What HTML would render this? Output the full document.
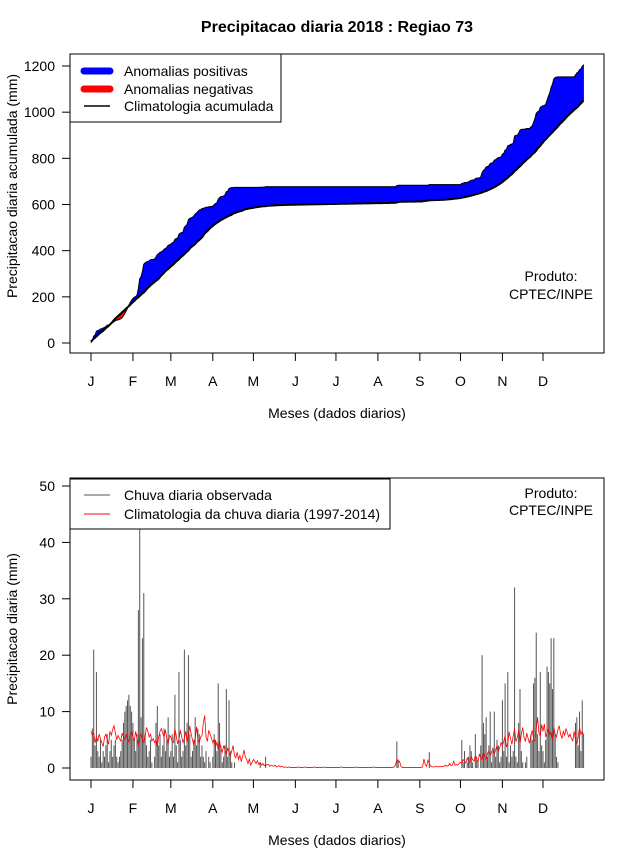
<!DOCTYPE html>
<html><head><meta charset="utf-8"><style>
html,body{margin:0;padding:0;background:#fff}
svg text{font-family:"Liberation Sans",Arial,sans-serif;fill:#000}
</style></head><body>
<svg id="chart" width="640" height="850" viewBox="0 0 640 850" xmlns="http://www.w3.org/2000/svg">
<text x="337" y="32" font-size="16" font-weight="bold" text-anchor="middle">Precipitacao diaria 2018 : Regiao 73</text>
<g id="top"></g>
<g id="bot"></g>
</svg>
<script>
const monthLabels = ["J","F","M","A","M","J","J","A","S","O","N","D"];
const monthStartDays = [1,32,60,91,121,152,182,213,244,274,305,335];
const topTicks = [0,200,400,600,800,1000,1200];
const botTicks = [0,10,20,30,40,50];
const obsJan=[2,7,21,4,17,3,2,5,1,3,2,4,6,1,3,5,2,4,5,2,1,2,3,5,8,10,11,12,13,11,10];
const obsFeb=[8,5,3,6,28,43,9,23,31,6,4,2,3,5,1,0,2,8,11,4,6,2,4,7,3,5,9,2];
const obsMar=[3,6,2,13,4,1,17,5,2,3,21,4,8,20,6,2,3,5,9,4,7,6,2,4,2,1,3,0,2,1,0];
const obsApr=[2,6,5,3,15,8,4,1,2,4,14,2,12,3,1,0,1,0,0,0,0,0,0,0,0,0,0,0,0,0];
const obsMay=[0,0,0,0,0,1,0,0,0,2,0,0,0,0,0,0,0,0,0,0,0,0,0,0,0,0,0,0,0,0,0];
const obsJun=[0,0,0,0,0,0,0,0,0,0,0,0,0,0,0,0,0,0,0,0,0,0,0,0,0,0,0,0,0,0];
const obsJul=[0,0,0,0,0,0,0,0,0,0,0,0,0,0,0,0,0,0,0,0,0,0,0,0,0,0,0,0,0,0,0];
const obsAug=[0,0,0,0,0,0,0,0,0,0,0,0,0,0,4.7,1.5,0,0,0,0,0,0,0,0,0,0,0,0,0,0,0];
const obsSep=[0,0,0,0,0,0,0,2.8,0,0,0,0,0,0,0,0,0,0,0,0,0,0,0,0,0,0,0,0,0,0];
const obsOct=[0,5,1,3,0,1,2,4,3,1,0,6,2,1,0,4,20,8,6,9,2,4,10,1,3,10,2,5,4,1,2];
const obsNov=[12,3,15,2,17,1,4,2,3,32,2,1,8,14,3,1,0,1,2,0,0,6,5,15,16,24,6,3,17,4];
const obsDec=[3,1,5,18,17,15,23,14,23,6,2,1,0,0,0,0,0,0,0,0,0,0,0,0,8,9,4,10,3,12,6];
const climJan=[6.5,5.8,6.2,4.5,5.5,4.8,6.0,5.2,4.5,3.8,5.5,6.0,5.0,4.2,6.5,5.8,6.8,7.5,6.2,5.0,5.8,5.2,4.8,6.2,5.5,5.0,6.0,5.2,4.5,5.8,6.5];
const climFeb=[5.5,4.8,6.5,5.2,4.0,5.5,6.2,5.0,4.5,5.8,7.2,6.5,5.5,6.0,4.8,5.2,4.5,5.0,3.8,5.5,6.5,7.0,6.2,5.5,6.8,5.2,4.2,5.8];
const climMar=[5.5,4.7,4.5,7.0,5.7,4.3,5.0,6.7,5.5,4.5,5.3,6.5,4.5,5.7,7.5,6.0,5.0,4.0,5.3,7.3,5.0,4.5,5.5,5.7,8.0,9.3,5.5,4.7,6.7,6.0,5.3];
const climApr=[4.5,5.2,3.8,4.5,3.2,4.8,3.5,2.8,4.0,3.2,2.5,3.5,2.8,2.2,3.0,4.0,2.2,1.8,2.8,1.5,2.2,1.2,2.0,3.2,2.0,1.5,0.8,1.6,0.5,1.0];
const climMay=[1.5,1.2,0.8,1.3,0.6,1.0,0.5,0.8,0.4,0.6,0.5,0.7,0.3,0.5,0.4,0.3,0.5,0.2,0.3,0.4,0.2,0.3,0.2,0.1,0.2,0.1,0.2,0.1,0.1,0.1,0.1];
const climJun=[0.1,0.1,0.2,0.1,0.1,0.1,0.1,0.2,0.1,0.1,0.1,0.1,0.1,0.1,0.2,0.1,0.1,0.1,0.1,0.1,0.1,0.2,0.1,0.1,0.1,0.1,0.1,0.1,0.1,0.1];
const climJul=[0.1,0.1,0.1,0.1,0.2,0.1,0.1,0.1,0.1,0.1,0.1,0.1,0.1,0.1,0.1,0.2,0.1,0.1,0.1,0.1,0.1,0.1,0.1,0.1,0.1,0.1,0.1,0.1,0.2,0.1,0.1];
const climAug=[0.1,0.1,0.1,0.1,0.1,0.1,0.1,0.1,0.1,0.1,0.1,0.1,0.2,0.5,1.5,1.0,1.2,0.3,0.1,0.1,0.1,0.1,0.1,0.1,0.1,0.1,0.1,0.1,0.1,0.1,0.1];
const climSep=[0.1,0.1,0.2,1.6,0.6,0.3,1.4,0.8,0.3,0.2,0.2,0.2,0.3,0.2,0.2,0.3,0.2,0.3,0.3,0.5,0.3,0.4,0.8,0.4,0.5,1.2,0.5,0.6,0.5,0.8];
const climOct=[1.0,0.8,1.5,1.2,0.9,1.8,1.2,1.0,2.0,1.5,1.2,2.2,1.6,1.0,2.5,1.8,1.4,2.8,2.0,1.5,2.6,3.0,2.2,2.8,3.5,2.5,3.2,4.0,3.0,3.6,4.5];
const climNov=[4.0,4.7,5.7,3.7,4.4,6.4,5.2,4.2,5.7,7.0,4.7,5.4,6.7,4.2,6.0,7.2,5.4,4.7,6.2,5.2,4.4,5.7,6.7,5.2,4.7,7.0,9.0,6.2,5.7,7.7];
const climDec=[6.5,7.8,5.5,6.2,7.0,5.8,6.5,5.0,7.2,6.0,5.5,6.8,7.5,6.0,5.2,6.5,5.8,7.0,6.2,5.5,6.0,5.2,4.8,6.5,5.0,4.2,5.5,7.2,6.0,6.5,5.8];

const obs=[].concat(obsJan,obsFeb,obsMar,obsApr,obsMay,obsJun,obsJul,obsAug,obsSep,obsOct,obsNov,obsDec);
const clim=[].concat(climJan,climFeb,climMar,climApr,climMay,climJun,climJul,climAug,climSep,climOct,climNov,climDec);
const NS="http://www.w3.org/2000/svg";
function mk(parent,tag,attrs,text){const e=document.createElementNS(NS,tag);for(const k in attrs)e.setAttribute(k,attrs[k]);if(text!==undefined)e.textContent=text;parent.appendChild(e);return e;}
const xDay=d=>91+(d-1)*(452/334);

function frame(g,top,bottom,y,ticks,ytitle,ytitleY){
  const box=mk(g,'rect',{x:70,y:top,width:534,height:bottom-top,fill:'none',stroke:'#000','stroke-width':1});
  
  
  ticks.forEach(t=>{
    const ln=mk(g,'line',{x1:62,x2:70,y1:y(t),y2:y(t),stroke:'#000'});
    
    
    const tx=mk(g,'text',{x:55,y:y(t)+5,'font-size':14,'text-anchor':'end'},String(t));
    
    
  });
  const ya=mk(g,'text',{x:0,y:0,'font-size':14,'text-anchor':'middle',transform:`translate(17,${ytitleY}) rotate(-90)`},ytitle);
  
  
  const ax=mk(g,'line',{x1:xDay(1),x2:xDay(335),y1:bottom,y2:bottom,stroke:'#000'});
  
  
  monthStartDays.forEach((d,i)=>{
    const ln=mk(g,'line',{x1:xDay(d),x2:xDay(d),y1:bottom,y2:bottom+8,stroke:'#000'});
    
    
    const tx=mk(g,'text',{x:xDay(d),y:bottom+33,'font-size':14,'text-anchor':'middle'},monthLabels[i]);
    
    
  });
  const xt=mk(g,'text',{x:337,y:bottom+65,'font-size':14,'text-anchor':'middle'},'Meses (dados diarios)');
  
  
}

// Top chart
const gT=document.getElementById('top');
const yT=v=>343-v*(277/1200);
const cumO=[],cumC=[];let so=0,sc=0;
obs.forEach((v,i)=>{so+=v;sc+=clim[i];cumO.push(so);cumC.push(sc);});
for(let i=0;i<364;i++){
  const d=i+1;
  const pos=(cumO[i]+cumO[i+1])>=(cumC[i]+cumC[i+1]);
  const p=mk(gT,'polygon',{points:`${xDay(d)},${yT(cumO[i])} ${xDay(d+1)},${yT(cumO[i+1])} ${xDay(d+1)},${yT(cumC[i+1])} ${xDay(d)},${yT(cumC[i])}`,fill:pos?'#0000ff':'#ff0000',stroke:pos?'#0000ff':'#ff0000','stroke-width':0.6});
  
  
}
const ol=mk(gT,'polyline',{points:cumO.map((v,i)=>xDay(i+1)+','+yT(v)).join(' '),fill:'none',stroke:'#000','stroke-width':1});


const cl=mk(gT,'polyline',{points:cumC.map((v,i)=>xDay(i+1)+','+yT(v)).join(' '),fill:'none',stroke:'#000','stroke-width':2});


frame(gT,54,353,yT,topTicks,'Precipitacao diaria acumulada (mm)',186);
const lg=mk(gT,'g',{});


mk(lg,'rect',{x:70,y:54,width:211,height:68,fill:'#fff',stroke:'#000'});
[['#0000ff',7,'Anomalias positivas',71],['#ff0000',7,'Anomalias negativas',89],['#000',1.5,'Climatologia acumulada',106]].forEach(e=>{
  const ent=mk(lg,'g',{});
  
  
  mk(ent,'line',{x1:84,x2:110,y1:e[3],y2:e[3],stroke:e[0],'stroke-width':e[1],'stroke-linecap':e[1]>3?'round':'butt'});
  mk(ent,'text',{x:124,y:e[3]+5,'font-size':14},e[2]);
});
const p1=mk(gT,'text',{x:551,y:281,'font-size':14,'text-anchor':'middle'},'Produto:');


const p2=mk(gT,'text',{x:551,y:299,'font-size':14,'text-anchor':'middle'},'CPTEC/INPE');



// Bottom chart
const gB=document.getElementById('bot');
const yB=v=>768-v*(282/50);
obs.forEach((v,i)=>{
  if(v<=0)return;
  const b=mk(gB,'line',{x1:xDay(i+1),x2:xDay(i+1),y1:yB(0),y2:Math.max(yB(v),479),stroke:'#555','stroke-width':1});
  
  
});
const rl=mk(gB,'polyline',{points:clim.map((v,i)=>xDay(i+1)+','+yB(v)).join(' '),fill:'none',stroke:'#ff0000','stroke-width':0.8});


frame(gB,478,780,yB,botTicks,'Precipitacao diaria (mm)',629);
const lg2=mk(gB,'g',{});


mk(lg2,'rect',{x:70,y:479,width:320,height:50,fill:'#fff',stroke:'#000'});
[['#555','Chuva diaria observada',495],['#ff0000','Climatologia da chuva diaria (1997-2014)',514]].forEach(e=>{
  const ent=mk(lg2,'g',{});
  
  
  mk(ent,'line',{x1:84,x2:110,y1:e[2],y2:e[2],stroke:e[0],'stroke-width':1});
  mk(ent,'text',{x:124,y:e[2]+5,'font-size':14},e[1]);
});
const p3=mk(gB,'text',{x:551,y:498,'font-size':14,'text-anchor':'middle'},'Produto:');


const p4=mk(gB,'text',{x:551,y:515,'font-size':14,'text-anchor':'middle'},'CPTEC/INPE');


</script>
</body></html>
